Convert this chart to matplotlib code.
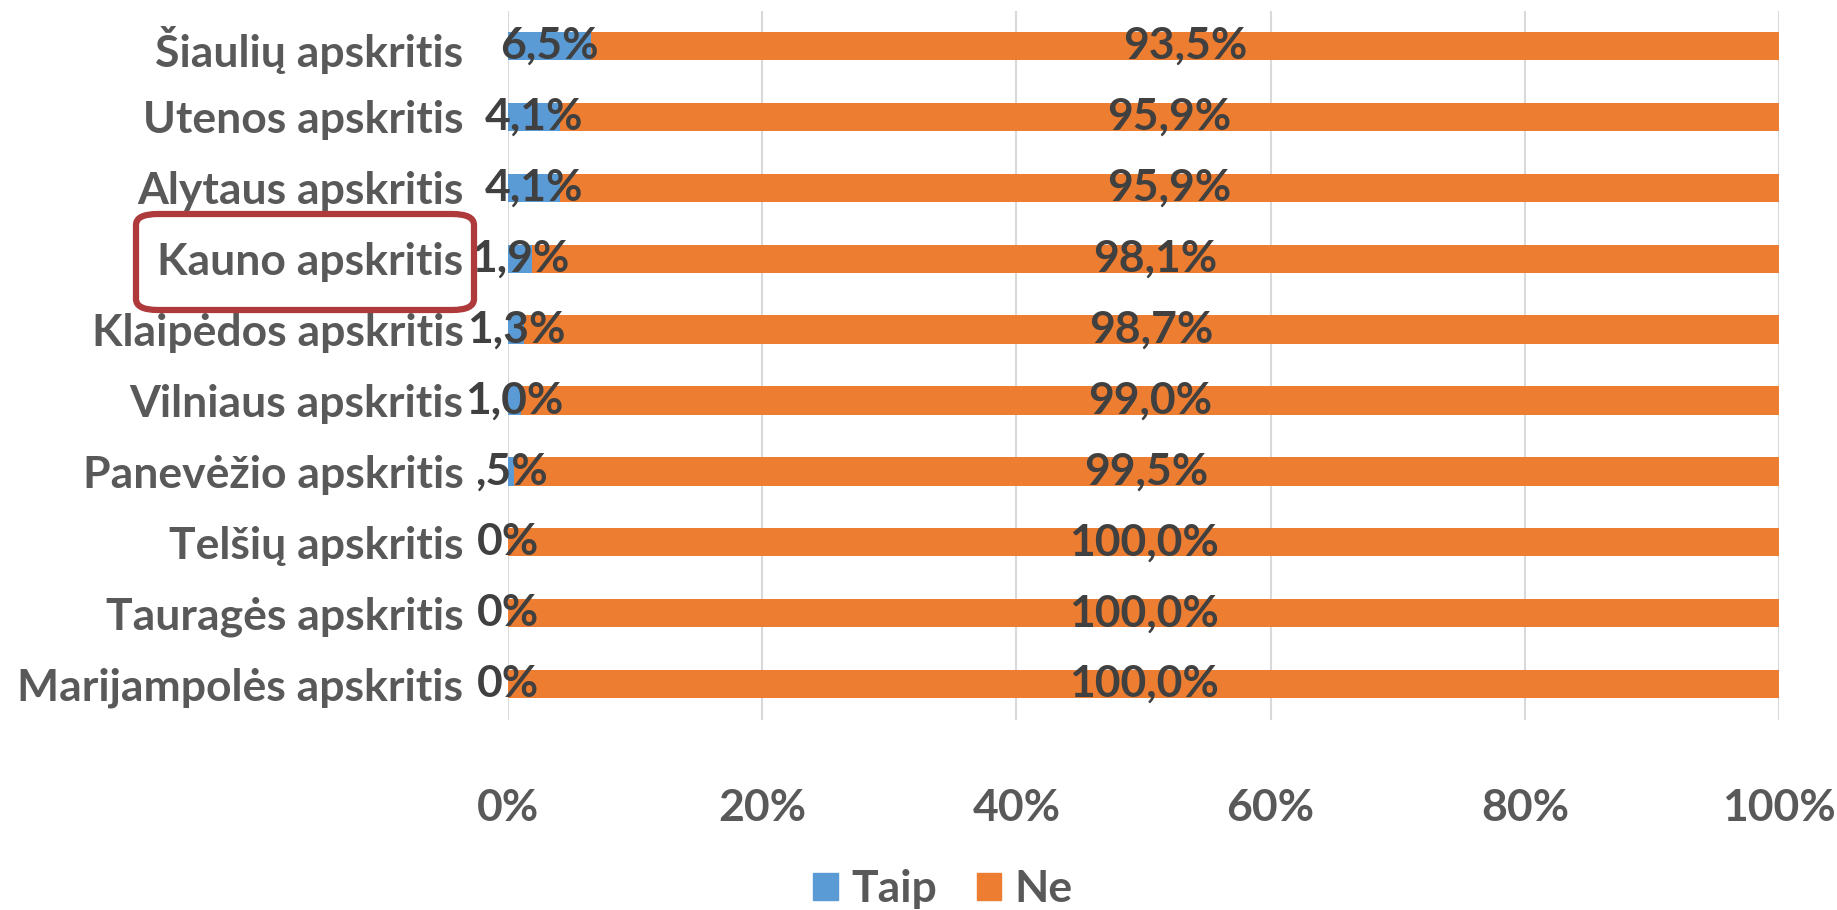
import matplotlib
matplotlib.use("Agg")
import matplotlib.pyplot as plt
from matplotlib.patches import FancyBboxPatch

plt.rcParams['font.family'] = ['Lato', 'DejaVu Sans']
plt.rcParams['font.weight'] = 'bold'

# data, top row first as in the picture
regions = ['Šiaulių apskritis', 'Utenos apskritis', 'Alytaus apskritis', 'Kauno apskritis',
           'Klaipėdos apskritis', 'Vilniaus apskritis', 'Panevėžio apskritis', 'Telšių apskritis',
           'Tauragės apskritis', 'Marijampolės apskritis']
taip = [6.5, 4.1, 4.1, 1.9, 1.3, 1.0, 0.5, 0.0, 0.0, 0.0]
ne = [93.5, 95.9, 95.9, 98.1, 98.7, 99.0, 99.5, 100.0, 100.0, 100.0]
taip_labels = ['6,5%', '4,1%', '4,1%', '1,9%', '1,3%', '1,0%', ',5%', '0%', '0%', '0%']
ne_labels = ['93,5%', '95,9%', '95,9%', '98,1%', '98,7%', '99,0%', '99,5%', '100,0%', '100,0%', '100,0%']
xticks = [0, 20, 40, 60, 80, 100]
xtick_labels = ['0%', '20%', '40%', '60%', '80%', '100%']

blue = '#5B9BD5'
orange = '#ED7D31'
label_col = '#404040'
tick_col = '#595959'
fs = 32

fig = plt.figure(figsize=(18.37, 9.10), dpi=100)
ax = fig.add_axes([0.2765, 0.2093, 0.6920, 0.7791])

n = len(regions)
ypos = [n - 1 - i for i in range(n)]
ax.barh(ypos, taip, height=0.4, color=blue, zorder=2)
ax.barh(ypos, ne, left=taip, height=0.4, color=orange, zorder=2)

for y, t, v, tl, nl in zip(ypos, taip, ne, taip_labels, ne_labels):
    ax.text(t / 2, y, tl, ha='center', va='center', fontsize=fs, color=label_col, zorder=3)
    ax.text(t + v / 2, y, nl, ha='center', va='center', fontsize=fs, color=label_col, zorder=3)

ax.set_xlim(0, 100)
ax.set_ylim(-0.5, n - 0.5)
ax.set_xticks(xticks)
ax.set_xticklabels(xtick_labels)
ax.set_yticks(ypos)
ax.set_yticklabels(regions)
ax.tick_params(axis='x', length=0, pad=49, labelsize=fs, labelcolor=tick_col)
ax.tick_params(axis='y', length=0, pad=32, labelsize=fs, labelcolor=tick_col)
ax.grid(axis='x', color='#D9D9D9', linewidth=1.5, zorder=0)
for s in ax.spines.values():
    s.set_visible(False)

# legend
h1 = plt.Rectangle((0, 0), 1, 1, color=blue)
h2 = plt.Rectangle((0, 0), 1, 1, color=orange)
fig.legend([h1, h2], ['Taip', 'Ne'], loc='center', bbox_to_anchor=(943 / 1837, 1 - 889 / 910),
           ncol=2, frameon=False, fontsize=fs, handlelength=0.55, handleheight=0.55,
           handletextpad=0.3, columnspacing=0.9, labelcolor=tick_col)

# highlight box around Kauno
box = FancyBboxPatch((136 / 1837, 1 - 310 / 910), (474 - 136) / 1837, (310 - 214) / 910,
                     boxstyle='round,pad=0,rounding_size=0.012', transform=fig.transFigure,
                     fill=False, edgecolor='#AE3A3C', linewidth=4.5)
fig.patches.append(box)

fig.savefig('out.png', dpi=100)
